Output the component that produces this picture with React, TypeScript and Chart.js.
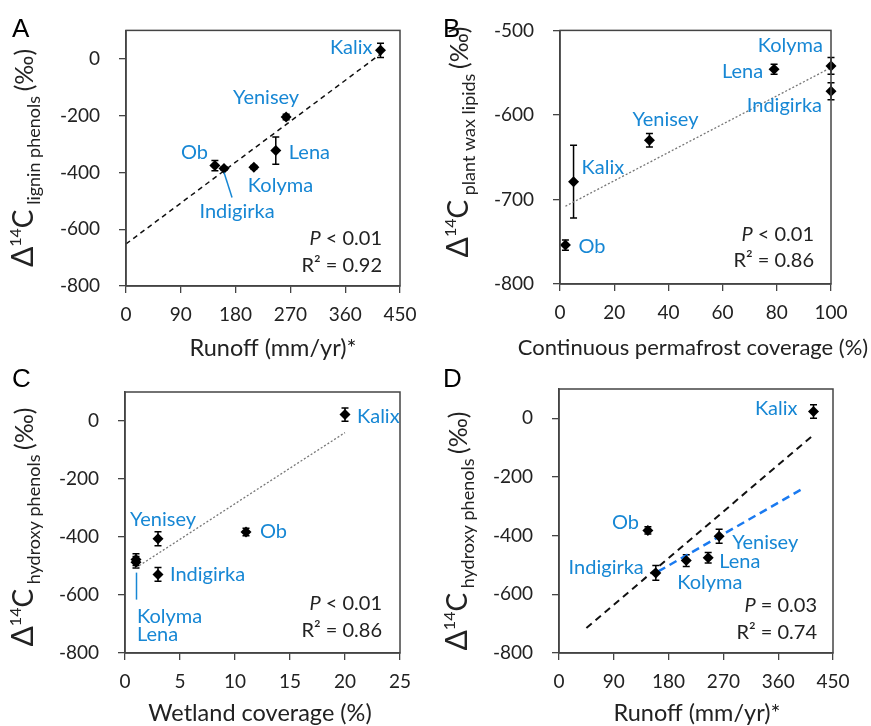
import React, { useEffect, useRef } from 'react';
import { Chart, registerables } from 'chart.js';
Chart.register(...registerables);

// ---------- DATA ----------
// Panel A: runoff vs Δ14C lignin phenols
const riversA = ['Kalix', 'Yenisey', 'Lena', 'Kolyma', 'Ob', 'Indigirka'];
const runoffA = [418, 263, 246, 210, 146, 161];
const ligninA = [30, -205, -323, -382, -376, -386];
const ligninErrA = [25, 10, 48, 6, 18, 6];
const trendAX = [0, 420];
const trendAY = [-652, 20];

// Panel B: continuous permafrost vs Δ14C plant wax lipids
const riversB = ['Kolyma', 'Indigirka', 'Lena', 'Yenisey', 'Kalix', 'Ob'];
const permafrostB = [100, 100, 79, 33, 5, 2];
const waxB = [-542, -572, -546, -630, -679, -754];
const waxErrB = [10, 10, 6, 8, 43, 6];
const trendBX = [2, 100];
const trendBY = [-708, -544];

// Panel C: wetland coverage vs Δ14C hydroxy phenols
const riversC = ['Kalix', 'Ob', 'Yenisey', 'Indigirka', 'Kolyma', 'Lena'];
const wetlandC = [20, 11, 3, 3, 1, 1];
const hydroxyC = [22, -383, -406, -529, -478, -487];
const hydroxyErrC = [23, 13, 24, 24, 20, 20];
const trendCX = [1, 20];
const trendCY = [-506, -40];

// Panel D: runoff vs Δ14C hydroxy phenols
const riversD = ['Kalix', 'Ob', 'Yenisey', 'Lena', 'Kolyma', 'Indigirka'];
const runoffD = [418, 146, 263, 245, 209, 159];
const hydroxyD = [23, -382, -402, -475, -485, -527];
const hydroxyErrD = [23, 12, 24, 18, 20, 25];
const trendDX = [45, 417];
const trendDY = [-715, -58];
const trendD2X = [163, 401];
const trendD2Y = [-522, -239];

// tick labels
const runoffTicks = [0, 90, 180, 270, 360, 450];
const permafrostTicks = [0, 20, 40, 60, 80, 100];
const wetlandTicks = [0, 5, 10, 15, 20, 25];
const deltaTicks = [0, -200, -400, -600, -800];
const waxTicks = [-500, -600, -700, -800];

// ---------- STYLE ----------
const W = 871;
const H = 726;
const BLUE = '#1787d4';
const FONT = 'Lato, "Open Sans", sans-serif';
const INK = '#222';

type Trend = { xs: number[]; ys: number[]; color: string; width: number; dash: number[] };
type Lab = { align: CanvasTextAlign; dx: number; dy: number; leader?: number[] };
type Panel = {
  letter: string; letterPos: number[];
  names: string[]; xs: number[]; ys: number[]; errs: number[];
  xMin: number; xMax: number; xTicks: number[];
  yMin: number; yMax: number; yTicks: number[];
  area: { left: number; top: number; right: number; bottom: number };
  trends: Trend[];
  labels: Record<string, Lab>;
  xTitle: string; xTitlePos: number[]; xTitleSize: number;
  ySub: string; yTitlePos: number[];
  stats: string[][]; statsPos: number[];
};

const dashBlack = { color: '#111', width: 1.5, dash: [5, 4] };
const dotGray = { color: '#777', width: 1.3, dash: [2, 2] };

const panels: Panel[] = [
  {
    letter: 'A', letterPos: [12, 37],
    names: riversA, xs: runoffA, ys: ligninA, errs: ligninErrA,
    xMin: 0, xMax: 450, xTicks: runoffTicks, yMin: -800, yMax: 100, yTicks: deltaTicks,
    area: { left: 126, top: 22, right: 400, bottom: 286 },
    trends: [{ xs: trendAX, ys: trendAY, ...dashBlack }],
    labels: {
      Kalix: { align: 'right', dx: -8, dy: -3 },
      Yenisey: { align: 'center', dx: -20, dy: -19 },
      Lena: { align: 'left', dx: 13, dy: 2 },
      Kolyma: { align: 'left', dx: -6, dy: 18 },
      Ob: { align: 'right', dx: -7, dy: -13 },
      Indigirka: { align: 'center', dx: 13, dy: 43, leader: [0, 4, 8, 29] },
    },
    xTitle: 'Runoff (mm/yr)*', xTitlePos: [273, 356], xTitleSize: 23.5,
    ySub: 'lignin phenols', yTitlePos: [33, 158],
    stats: [['P', ' < 0.01'], ['', 'R² = 0.92']], statsPos: [382, 245, 272],
  },
  {
    letter: 'B', letterPos: [443, 37],
    names: riversB, xs: permafrostB, ys: waxB, errs: waxErrB,
    xMin: 0, xMax: 100, xTicks: permafrostTicks, yMin: -800, yMax: -500, yTicks: waxTicks,
    area: { left: 560, top: 23, right: 831, bottom: 284 },
    trends: [{ xs: trendBX, ys: trendBY, ...dotGray }],
    labels: {
      Kolyma: { align: 'right', dx: -8, dy: -20 },
      Indigirka: { align: 'right', dx: -9, dy: 14 },
      Lena: { align: 'right', dx: -11, dy: 2 },
      Yenisey: { align: 'center', dx: 16, dy: -21 },
      Kalix: { align: 'left', dx: 8, dy: -14 },
      Ob: { align: 'left', dx: 13, dy: 1 },
    },
    xTitle: 'Continuous permafrost coverage (%)', xTitlePos: [693, 355], xTitleSize: 22,
    ySub: 'plant wax lipids', yTitlePos: [468, 142],
    stats: [['P', ' < 0.01'], ['', 'R² = 0.86']], statsPos: [814, 241, 267],
  },
  {
    letter: 'C', letterPos: [12, 387],
    names: riversC, xs: wetlandC, ys: hydroxyC, errs: hydroxyErrC,
    xMin: 0, xMax: 25, xTicks: wetlandTicks, yMin: -800, yMax: 100, yTicks: deltaTicks,
    area: { left: 125, top: 392, right: 400, bottom: 653 },
    trends: [{ xs: trendCX, ys: trendCY, ...dotGray }],
    labels: {
      Kalix: { align: 'left', dx: 12, dy: 2 },
      Ob: { align: 'left', dx: 14, dy: -1 },
      Yenisey: { align: 'center', dx: 5, dy: -19 },
      Indigirka: { align: 'left', dx: 12, dy: 0 },
      Kolyma: { align: 'left', dx: 1, dy: 57, leader: [0.5, 13, 0.5, 40] },
      Lena: { align: 'left', dx: 1, dy: 72 },
    },
    xTitle: 'Wetland coverage (%)', xTitlePos: [260, 721], xTitleSize: 23.5,
    ySub: 'hydroxy phenols', yTitlePos: [33, 527],
    stats: [['P', ' < 0.01'], ['', 'R² = 0.86']], statsPos: [382, 610, 637],
  },
  {
    letter: 'D', letterPos: [443, 387],
    names: riversD, xs: runoffD, ys: hydroxyD, errs: hydroxyErrD,
    xMin: 0, xMax: 450, xTicks: runoffTicks, yMin: -800, yMax: 100, yTicks: deltaTicks,
    area: { left: 559, top: 389, right: 833, bottom: 653 },
    trends: [
      { xs: trendDX, ys: trendDY, color: '#111', width: 2, dash: [7, 5] },
      { xs: trendD2X, ys: trendD2Y, color: '#1a7af0', width: 2.5, dash: [8, 5] },
    ],
    labels: {
      Kalix: { align: 'right', dx: -16, dy: -3 },
      Ob: { align: 'right', dx: -9, dy: -8 },
      Yenisey: { align: 'left', dx: 13, dy: 6 },
      Lena: { align: 'left', dx: 11, dy: 4 },
      Kolyma: { align: 'left', dx: -9, dy: 22 },
      Indigirka: { align: 'right', dx: -12, dy: -5 },
    },
    xTitle: 'Runoff (mm/yr)*', xTitlePos: [697, 721], xTitleSize: 23.5,
    ySub: 'hydroxy phenols', yTitlePos: [467, 531],
    stats: [['P', ' = 0.03'], ['', 'R² = 0.74']], statsPos: [817, 612, 639],
  },
];

function drawVTitle(ctx: CanvasRenderingContext2D, sub: string, xBase: number, yCenter: number) {
  const segs = [
    { t: 'Δ', f: `30px ${FONT}`, s: 0 },
    { t: '14', f: `16px ${FONT}`, s: -12 },
    { t: 'C', f: `28px ${FONT}`, s: 0 },
    { t: ' ' + sub + ' ', f: `18px ${FONT}`, s: 7 },
    { t: '(‰)', f: `25px ${FONT}`, s: 0 },
  ];
  ctx.save();
  let total = 0;
  for (const sg of segs) { ctx.font = sg.f; total += ctx.measureText(sg.t).width; }
  ctx.translate(xBase, yCenter);
  ctx.rotate(-Math.PI / 2);
  ctx.fillStyle = INK;
  ctx.textAlign = 'left';
  ctx.textBaseline = 'alphabetic';
  let x = -total / 2;
  for (const sg of segs) {
    ctx.font = sg.f;
    ctx.fillText(sg.t, x, sg.s);
    x += ctx.measureText(sg.t).width;
  }
  ctx.restore();
}

function makePlugin(p: Panel) {
  return {
    id: 'panelDecor' + p.letter,
    beforeDatasetsDraw(chart: any) {
      const ctx: CanvasRenderingContext2D = chart.ctx;
      const xs = chart.scales.x, ys = chart.scales.y;
      ctx.save();
      ctx.strokeStyle = '#000';
      ctx.lineWidth = 1.5;
      p.xs.forEach((xv, i) => {
        const e = p.errs[i];
        const px = xs.getPixelForValue(xv);
        const y1 = ys.getPixelForValue(p.ys[i] + e);
        const y2 = ys.getPixelForValue(p.ys[i] - e);
        ctx.beginPath();
        ctx.moveTo(px, y1); ctx.lineTo(px, y2);
        ctx.moveTo(px - 3.5, y1); ctx.lineTo(px + 3.5, y1);
        ctx.moveTo(px - 3.5, y2); ctx.lineTo(px + 3.5, y2);
        ctx.stroke();
      });
      ctx.restore();
    },
    afterDraw(chart: any) {
      const ctx: CanvasRenderingContext2D = chart.ctx;
      const a = chart.chartArea;
      const xs = chart.scales.x, ys = chart.scales.y;
      ctx.save();
      // frame
      ctx.strokeStyle = '#444';
      ctx.lineWidth = 1.5;
      ctx.strokeRect(a.left, a.top, a.right - a.left, a.bottom - a.top);
      // point labels
      ctx.font = `20px ${FONT}`;
      ctx.fillStyle = BLUE;
      ctx.textBaseline = 'middle';
      p.names.forEach((n, i) => {
        const l = p.labels[n];
        if (!l) return;
        const px = xs.getPixelForValue(p.xs[i]);
        const py = ys.getPixelForValue(p.ys[i]);
        ctx.textAlign = l.align;
        ctx.fillText(n, px + l.dx, py + l.dy);
        if (l.leader) {
          ctx.strokeStyle = BLUE;
          ctx.lineWidth = 1.5;
          ctx.beginPath();
          ctx.moveTo(px + l.leader[0], py + l.leader[1]);
          ctx.lineTo(px + l.leader[2], py + l.leader[3]);
          ctx.stroke();
        }
      });
      // stats
      ctx.fillStyle = INK;
      ctx.textBaseline = 'alphabetic';
      ctx.textAlign = 'left';
      p.stats.forEach((line, k) => {
        const fi = `italic 20px ${FONT}`;
        const fn = `20px ${FONT}`;
        ctx.font = fi; const w1 = ctx.measureText(line[0]).width;
        ctx.font = fn; const w2 = ctx.measureText(line[1]).width;
        const x0 = p.statsPos[0] - w1 - w2;
        const y0 = p.statsPos[1 + k];
        ctx.font = fi; ctx.fillText(line[0], x0, y0);
        ctx.font = fn; ctx.fillText(line[1], x0 + w1, y0);
      });
      // x title
      ctx.font = `${p.xTitleSize}px ${FONT}`;
      ctx.textAlign = 'center';
      ctx.textBaseline = 'alphabetic';
      ctx.fillText(p.xTitle, p.xTitlePos[0], p.xTitlePos[1]);
      // panel letter
      ctx.font = `26px "Liberation Sans", Arial, sans-serif`;
      ctx.textAlign = 'left';
      ctx.textBaseline = 'alphabetic';
      ctx.fillStyle = '#000';
      ctx.fillText(p.letter, p.letterPos[0], p.letterPos[1]);
      ctx.restore();
      drawVTitle(ctx, p.ySub, p.yTitlePos[0], p.yTitlePos[1]);
    },
  };
}

function makeConfig(p: Panel): any {
  const a = p.area;
  const gridCommon = { drawOnChartArea: false, drawTicks: true, tickLength: 7, color: '#444', lineWidth: 1.3 };
  const tickFont = { family: FONT, size: 19 };
  return {
    type: 'scatter',
    data: {
      datasets: [
        {
          data: p.xs.map((x, i) => ({ x, y: p.ys[i] })),
          pointStyle: 'rectRot', pointRadius: 5.5, backgroundColor: '#000', borderColor: '#000',
          borderWidth: 0, order: 0, clip: false,
        },
        ...p.trends.map((t) => ({
          data: t.xs.map((x, i) => ({ x, y: t.ys[i] })),
          showLine: true, pointRadius: 0, borderColor: t.color, borderWidth: t.width,
          borderDash: t.dash, order: 1, clip: false, fill: false,
        })),
      ],
    },
    options: {
      responsive: false,
      animation: false,
      events: [],
      layout: { padding: { left: 0, top: a.top, right: W - a.right, bottom: 0 } },
      plugins: { legend: { display: false }, tooltip: { enabled: false } },
      scales: {
        x: {
          type: 'linear', min: p.xMin, max: p.xMax,
          afterFit: (s: any) => { s.height = H - a.bottom; },
          afterBuildTicks: (s: any) => { s.ticks = p.xTicks.map((v) => ({ value: v })); },
          ticks: { font: tickFont, color: INK, padding: 10, maxRotation: 0, autoSkip: false },
          grid: gridCommon,
          border: { display: true, color: '#444', width: 1.5 },
        },
        y: {
          type: 'linear', min: p.yMin, max: p.yMax,
          afterFit: (s: any) => { s.width = a.left; },
          afterBuildTicks: (s: any) => { s.ticks = p.yTicks.map((v) => ({ value: v })); },
          ticks: { font: tickFont, color: INK, padding: 19, autoSkip: false },
          grid: gridCommon,
          border: { display: true, color: '#444', width: 1.5 },
        },
      },
    },
    plugins: [makePlugin(p)],
  };
}

export default function App() {
  const refs = useRef<(HTMLCanvasElement | null)[]>([]);
  useEffect(() => {
    const charts = panels.map((p, i) => new Chart(refs.current[i] as HTMLCanvasElement, makeConfig(p)));
    return () => charts.forEach((c) => c.destroy());
  }, []);
  return (
    <div style={{ position: 'absolute', left: 0, top: 0, width: W, height: H, background: '#fff' }}>
      {panels.map((p, i) => (
        <canvas
          key={p.letter}
          ref={(el) => { refs.current[i] = el; }}
          width={W}
          height={H}
          style={{ position: 'absolute', left: 0, top: 0, width: W, height: H }}
        />
      ))}
    </div>
  );
}
